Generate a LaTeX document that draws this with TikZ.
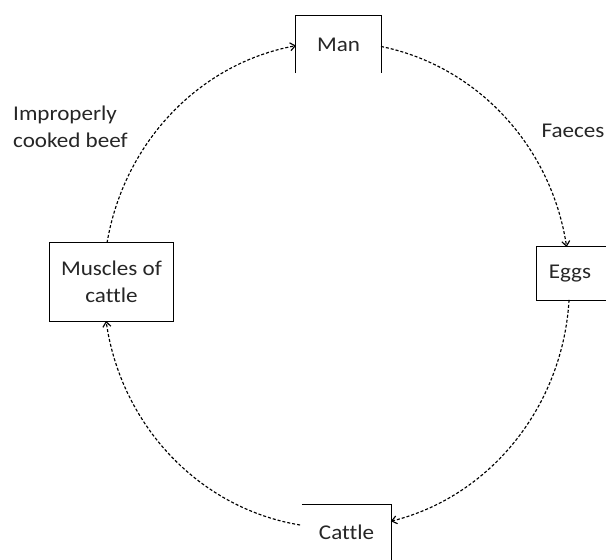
\documentclass[tikz,border=0pt]{standalone}
\usepackage{fontspec}
\setmainfont{Carlito}[FakeStretch=1.1, Ligatures=NoCommon]
\usetikzlibrary{arrows.meta}
\begin{document}
\begin{tikzpicture}[x=1pt,y=1pt,
  every node/.style={font=\fontsize{21}{27.5}\selectfont, text=black!85},
  boxnode/.style={rectangle, inner sep=0pt, minimum width=#1},
  edge/.style={line width=1.3pt, black},
  conn/.style={line width=1.15pt, black, dash pattern=on 3pt off 2pt,
    -{Straight Barb[length=5pt,width=8pt]}},
  lbl/.style={inner sep=0pt, align=left}]
\useasboundingbox (0,0) rectangle (606,560);
% boxes
\node[boxnode=85pt, minimum height=57pt] (man) at (338.5,515.5) {Man};
\node[boxnode=66pt, minimum height=53pt] (eggs) at (570,286.5) {Eggs};
\node[boxnode=123pt, minimum height=78pt, align=center] (muscles) at (111.5,278) {Muscles of\\cattle};
\node[boxnode=89pt, minimum height=55pt] (cattle) at (346.5,27.5) {Cattle};
\draw[edge] (man.south west) -- (man.north west) -- (man.north east) -- (man.south east);
\draw[edge] ([xshift=3pt]eggs.north east) -- (eggs.north west) -- (eggs.south west) -- ([xshift=3pt]eggs.south east);
\draw[edge] (muscles.south west) rectangle (muscles.north east);
\draw[edge] (cattle.north west) -- (cattle.north east) -- (cattle.south east);
% cycle on the ellipse
\coordinate (c) at (336.5,275);
\path (c) ++(79:233 and 243) coordinate (p1);
\path (c) ++(-3.5:233 and 243) coordinate (p2);
\path (c) ++(-99:233 and 243) coordinate (p3);
\path (c) ++(-190:233 and 243) coordinate (p4);
\draw[conn] (p1) arc[start angle=79, end angle=9, x radius=233, y radius=243];
\draw[conn] (p2) arc[start angle=-3.5, end angle=-76.5, x radius=233, y radius=243];
\draw[conn] (p3) arc[start angle=-99, end angle=-171.5, x radius=233, y radius=243];
\draw[conn] (p4) arc[start angle=-190, end angle=-260, x radius=233, y radius=243];
% labels
\node[lbl, anchor=west] (beef) at (13,433) {Improperly\\cooked beef};
\node[lbl] (faeces) at (573,429) {Faeces};
\end{tikzpicture}
\end{document}
